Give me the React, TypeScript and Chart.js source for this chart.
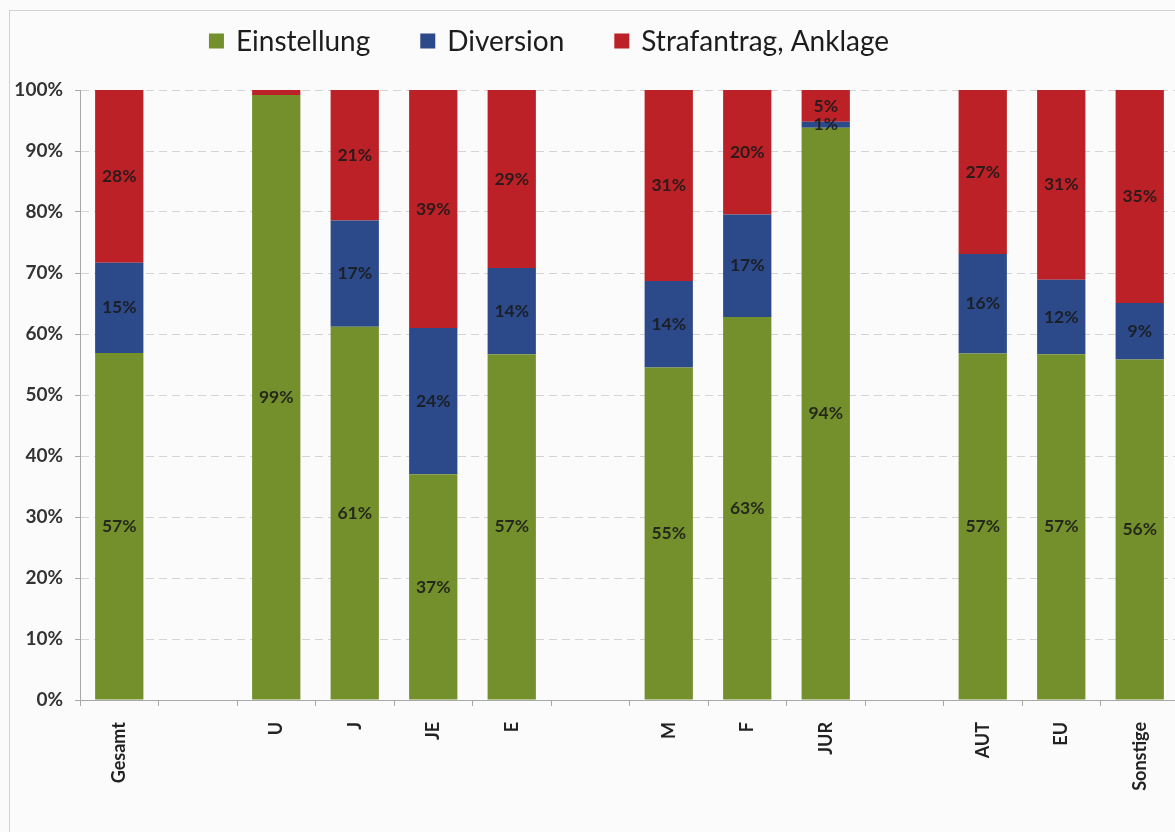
import React, { useEffect, useRef } from "react";
import { Chart, registerables } from "chart.js";

Chart.register(...registerables);

const categories = ["Gesamt", "", "U", "J", "JE", "E", "", "M", "F", "JUR", "", "AUT", "EU", "Sonstige"];
const einstellung = [56.9, null, 99.2, 61.2, 37.0, 56.7, null, 54.5, 62.8, 93.8, null, 56.8, 56.7, 55.8];
const diversion = [14.8, null, 0, 17.4, 24.0, 14.1, null, 14.2, 16.8, 1.0, null, 16.3, 12.2, 9.3];
const strafantrag = [28.3, null, 0.8, 21.4, 39.0, 29.2, null, 31.3, 20.4, 5.2, null, 26.9, 31.1, 34.9];
const seriesNames = ["Einstellung", "Diversion", "Strafantrag, Anklage"];
const seriesColors = ["#74902C", "#2C4A8A", "#BC2127"];

const FONT = "Lato, 'Open Sans', 'DejaVu Sans', sans-serif";

const dataLabelPlugin = {
  id: "dataLabels",
  afterDatasetsDraw(chart: any) {
    const ctx = chart.ctx;
    ctx.save();
    ctx.font = `bold 17.5px ${FONT}`;
    ctx.fillStyle = "rgba(25,25,25,0.88)";
    ctx.textAlign = "center";
    ctx.textBaseline = "middle";
    chart.data.datasets.forEach((ds: any, di: number) => {
      const meta = chart.getDatasetMeta(di);
      meta.data.forEach((bar: any, i: number) => {
        const v = ds.data[i];
        if (v == null || v < 1) return;
        const y = (bar.y + bar.base) / 2;
        ctx.fillText(`${Math.round(v)}%`, bar.x, y);
      });
    });
    ctx.restore();
  },
};

const legendPlugin = {
  id: "customLegend",
  afterDraw(chart: any) {
    const ctx = chart.ctx;
    ctx.save();
    ctx.font = `28px ${FONT}`;
    ctx.textBaseline = "middle";
    const box = 15;
    const gapText = 12;
    const gapItem = 50;
    const items = chart.data.datasets.map((ds: any) => ({
      text: ds.label,
      color: ds.backgroundColor,
      w: ctx.measureText(ds.label).width,
    }));
    let total = 0;
    items.forEach((it: any, i: number) => {
      total += box + gapText + it.w + (i < items.length - 1 ? gapItem : 0);
    });
    let x = 549 - total / 2;
    const cy = 41;
    items.forEach((it: any) => {
      ctx.fillStyle = it.color;
      ctx.fillRect(x, cy - box / 2, box, box);
      ctx.fillStyle = "#1c1c1c";
      ctx.fillText(it.text, x + box + gapText, cy + 1);
      x += box + gapText + it.w + gapItem;
    });
    ctx.restore();
  },
};

export default function App() {
  const canvasRef = useRef<HTMLCanvasElement | null>(null);

  useEffect(() => {
    let chart: Chart | null = null;
    let cancelled = false;
    const make = () => {
      if (cancelled || !canvasRef.current) return;
      const datasets = [einstellung, diversion, strafantrag].map((d, i) => ({
        label: seriesNames[i],
        data: d,
        backgroundColor: seriesColors[i],
        borderWidth: 0,
        categoryPercentage: 1,
        barPercentage: 0.615,
      }));
      chart = new Chart(canvasRef.current, {
        type: "bar",
        data: { labels: categories, datasets: datasets as any },
        options: {
          responsive: false,
          animation: false,
          layout: { padding: { left: 0, right: 11, top: 90, bottom: 0 } },
          plugins: {
            legend: { display: false },
            tooltip: { enabled: false },
          },
          scales: {
            x: {
              stacked: true,
              grid: {
                offset: true,
                drawOnChartArea: false,
                drawTicks: true,
                tickLength: 6,
                color: "#a8a8a8",
              },
              border: { color: "#a8a8a8" },
              ticks: {
                autoSkip: false,
                maxRotation: 90,
                minRotation: 90,
                padding: 16,
                color: "#222",
                font: { family: FONT, size: 18, weight: "bold" },
              },
              afterFit(scale: any) {
                scale.height = 132;
              },
            },
            y: {
              stacked: true,
              min: 0,
              max: 100,
              ticks: {
                stepSize: 10,
                padding: 12,
                color: "#333",
                font: { family: FONT, size: 19, weight: "bold" },
                callback: (v: any) => `${v}%`,
              },
              grid: {
                color: "#d4d4d4",
                tickColor: "#a8a8a8",
                tickLength: 5,
              },
              border: { color: "#a8a8a8", dash: [8, 5] },
              afterFit(scale: any) {
                scale.width = 80;
              },
            },
          },
        },
        plugins: [dataLabelPlugin, legendPlugin],
      });
    };
    const fonts: any = (document as any).fonts;
    if (fonts && fonts.load) {
      Promise.all([
        fonts.load(`bold 18px Lato`),
        fonts.load(`28px Lato`),
      ]).then(make, make);
    } else {
      make();
    }
    return () => {
      cancelled = true;
      if (chart) chart.destroy();
    };
  }, []);

  return (
    <div
      style={{
        position: "fixed",
        left: 0,
        top: 0,
        width: 1175,
        height: 832,
        overflow: "hidden",
        background: "#fbfbfb",
      }}
    >
      <div
        style={{
          position: "absolute",
          left: 9,
          top: 10,
          width: 1200,
          height: 900,
          borderLeft: "1px solid #d2d2d2",
          borderTop: "1px solid #d2d2d2",
        }}
      />
      <canvas
        ref={canvasRef}
        width={1190}
        height={832}
        style={{ position: "absolute", left: 0, top: 0, width: 1190, height: 832 }}
      />
    </div>
  );
}
